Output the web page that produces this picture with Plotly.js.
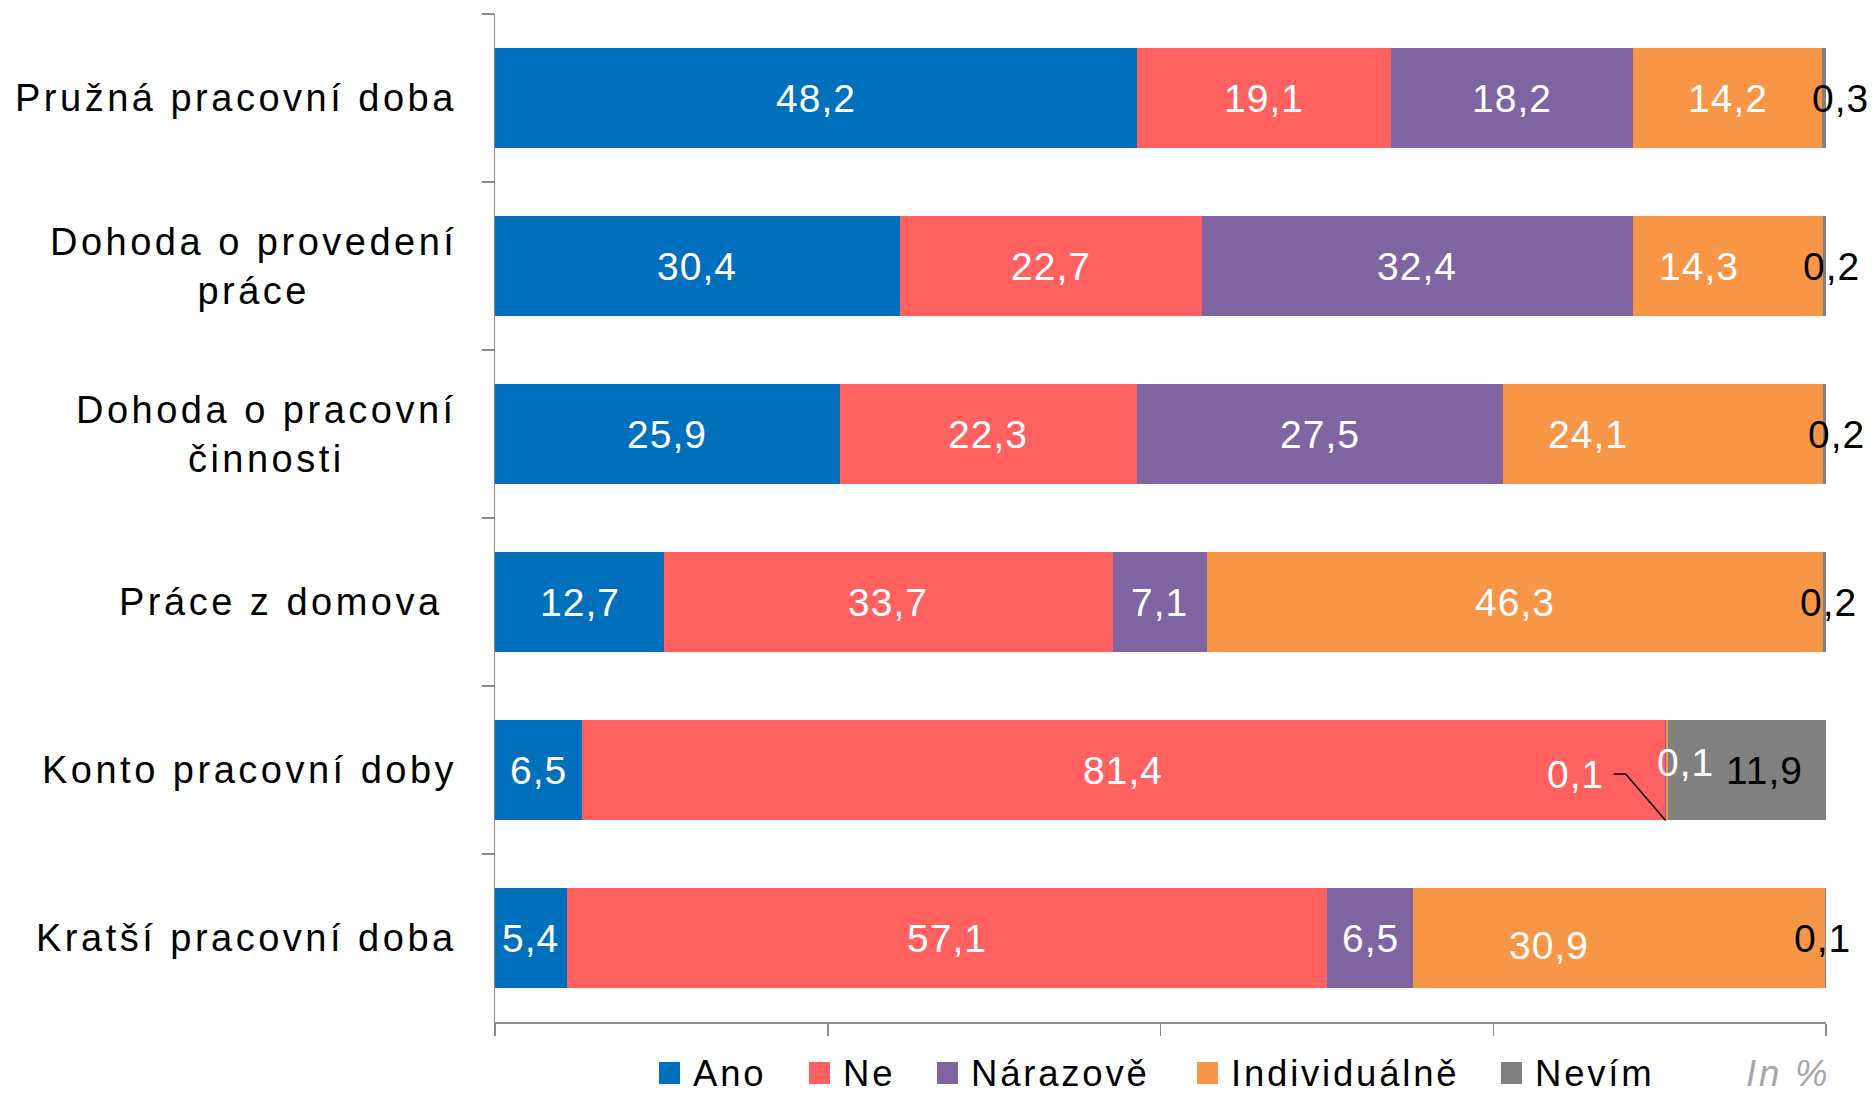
<!DOCTYPE html>
<html><head><meta charset="utf-8">
<script src="https://cdn.plot.ly/plotly-3.0.1.min.js"></script>
<style>
html,body{margin:0;padding:0;background:#fff}
#chart{width:1872px;height:1094px}
text[style*="font-size: 38px"]{letter-spacing:3.5px}
text[style*="font-size: 39px"]{letter-spacing:1px}
text[style*="font-size: 36.5px"]{letter-spacing:2.8px}
</style></head><body><div id="chart"></div>
<script>
// ---- data ----
const categories = ["Pružná pracovní doba","Dohoda o provedení<br>práce","Dohoda o pracovní<br>činnosti","Práce z domova\u00a0","Konto pracovní doby","Kratší pracovní doba"];
const seriesNames = ["Ano","Ne","Nárazově","Individuálně","Nevím"];
const ano          = [48.2, 30.4, 25.9, 12.7,  6.5,  5.4];
const ne           = [19.1, 22.7, 22.3, 33.7, 81.4, 57.1];
const narazove     = [18.2, 32.4, 27.5,  7.1,  0.1,  6.5];
const individualne = [14.2, 14.3, 24.1, 46.3,  0.1, 30.9];
const nevim        = [ 0.3,  0.2,  0.2,  0.2, 11.9,  0.1];
const unitNote = "In %";

// ---- styling ----
const series = [ano, ne, narazove, individualne, nevim];
const colors = ["#0070BD", "#FF6161", "#8064A2", "#F79646", "#808080"];
const labelColors = ["#FFFFFF", "#FFFFFF", "#FFFFFF", "#FFFFFF", "#000000"];
const FONT = "Liberation Sans, Arial, sans-serif";
// label nudges in px, keyed "series,row"
const nudges = {
  "4,0": [16, 0], "4,1": [7, 0], "4,2": [12, 0], "4,3": [4, 0], "4,5": [-3, 0],
  "4,4": [18, 0], "3,4": [19, 8], "2,4": [-90, -4],
  "3,1": [-29, 0], "3,2": [-75, 0], "3,5": [-70, -7]
};

const fmt = v => v.toFixed(1).replace('.', ',');

const traces = series.map((vals, s) => ({
  type: 'bar', orientation: 'h', name: seriesNames[s],
  x: vals, y: categories,
  marker: {color: colors[s], line: {width: 0}},
  hoverinfo: 'name+x', showlegend: false
}));

const annotations = [];
const shapes = [];
const cum = categories.map(() => 0);
series.forEach((vals, s) => {
  vals.forEach((v, i) => {
    const center = cum[i] + v / 2;
    const nd = nudges[s + "," + i] || [0, 0];
    annotations.push({
      x: center, y: categories[i], xref: 'x', yref: 'y',
      text: fmt(v), showarrow: false, xanchor: 'center', yanchor: 'middle',
      xshift: nd[0], yshift: nd[1],
      font: {family: FONT, size: 39, color: labelColors[s]}
    });
    if (s === 2 && i === 4) {
      // leader line from the small label to its segment
      const rowBottom = 1 - (i + 0.5) / categories.length - 0.3 / categories.length;
      const lineY = 1 - (i + 0.5) / categories.length - 4 / 1008;
      shapes.push({type: 'line', xref: 'x', yref: 'paper', x0: center - 3.9, x1: center - 3.0, y0: lineY, y1: lineY, line: {color: '#000', width: 1.5}});
      shapes.push({type: 'line', xref: 'x', yref: 'paper', x0: center - 3.0, x1: center, y0: lineY, y1: rowBottom, line: {color: '#000', width: 1.5}});
    }
    cum[i] += v;
  });
});

// category labels
categories.forEach(c => {
  annotations.push({
    x: 0, xref: 'paper', y: c, yref: 'y', xanchor: 'right', yanchor: 'middle',
    xshift: -36, align: 'center', showarrow: false, text: c,
    font: {family: FONT, size: 38, color: '#000'}
  });
});

// custom legend
const legX = [659, 809, 937, 1197, 1501];
const toPX = px => (px - 495) / 1331;
const legY = (1022 - 1073) / 1008;
seriesNames.forEach((n, s) => {
  shapes.push({type: 'rect', xref: 'paper', yref: 'paper',
    x0: toPX(legX[s]), x1: toPX(legX[s] + 21),
    y0: legY - 11 / 1008, y1: legY + 11 / 1008,
    fillcolor: colors[s], line: {width: 0}});
  annotations.push({
    x: toPX(legX[s] + 32), y: legY, xref: 'paper', yref: 'paper',
    xanchor: 'left', yanchor: 'middle', showarrow: false, text: n,
    font: {family: FONT, size: 36.5, color: '#000'}
  });
});
annotations.push({
  x: toPX(1832), y: legY, xref: 'paper', yref: 'paper', xanchor: 'right', yanchor: 'middle',
  showarrow: false, text: unitNote,
  font: {family: FONT, size: 36.5, color: '#A6A6A6', style: 'italic'}
});

const layout = {
  width: 1872, height: 1094,
  margin: {l: 495, r: 46, t: 14, b: 72, pad: 0},
  paper_bgcolor: '#fff', plot_bgcolor: '#fff',
  barmode: 'stack', bargap: 0.4,
  showlegend: false,
  xaxis: {range: [0, 100], showgrid: false, zeroline: false, showline: true,
    linecolor: '#8C8C8C', linewidth: 1.5, ticks: 'outside', ticklen: 12,
    tickcolor: '#8C8C8C', tickwidth: 1.5, tickvals: [0, 25, 50, 75, 100], showticklabels: false, fixedrange: true},
  yaxis: {type: 'category', categoryorder: 'array', categoryarray: categories, autorange: 'reversed',
    showgrid: false, zeroline: false, showline: true, linecolor: '#8C8C8C', linewidth: 1.5,
    ticks: 'outside', tickson: 'boundaries', ticklen: 12, tickcolor: '#8C8C8C', tickwidth: 1.5,
    showticklabels: false, fixedrange: true},
  annotations: annotations,
  shapes: shapes
};

Plotly.newPlot('chart', traces, layout, {displayModeBar: false, staticPlot: true});
</script></body></html>
